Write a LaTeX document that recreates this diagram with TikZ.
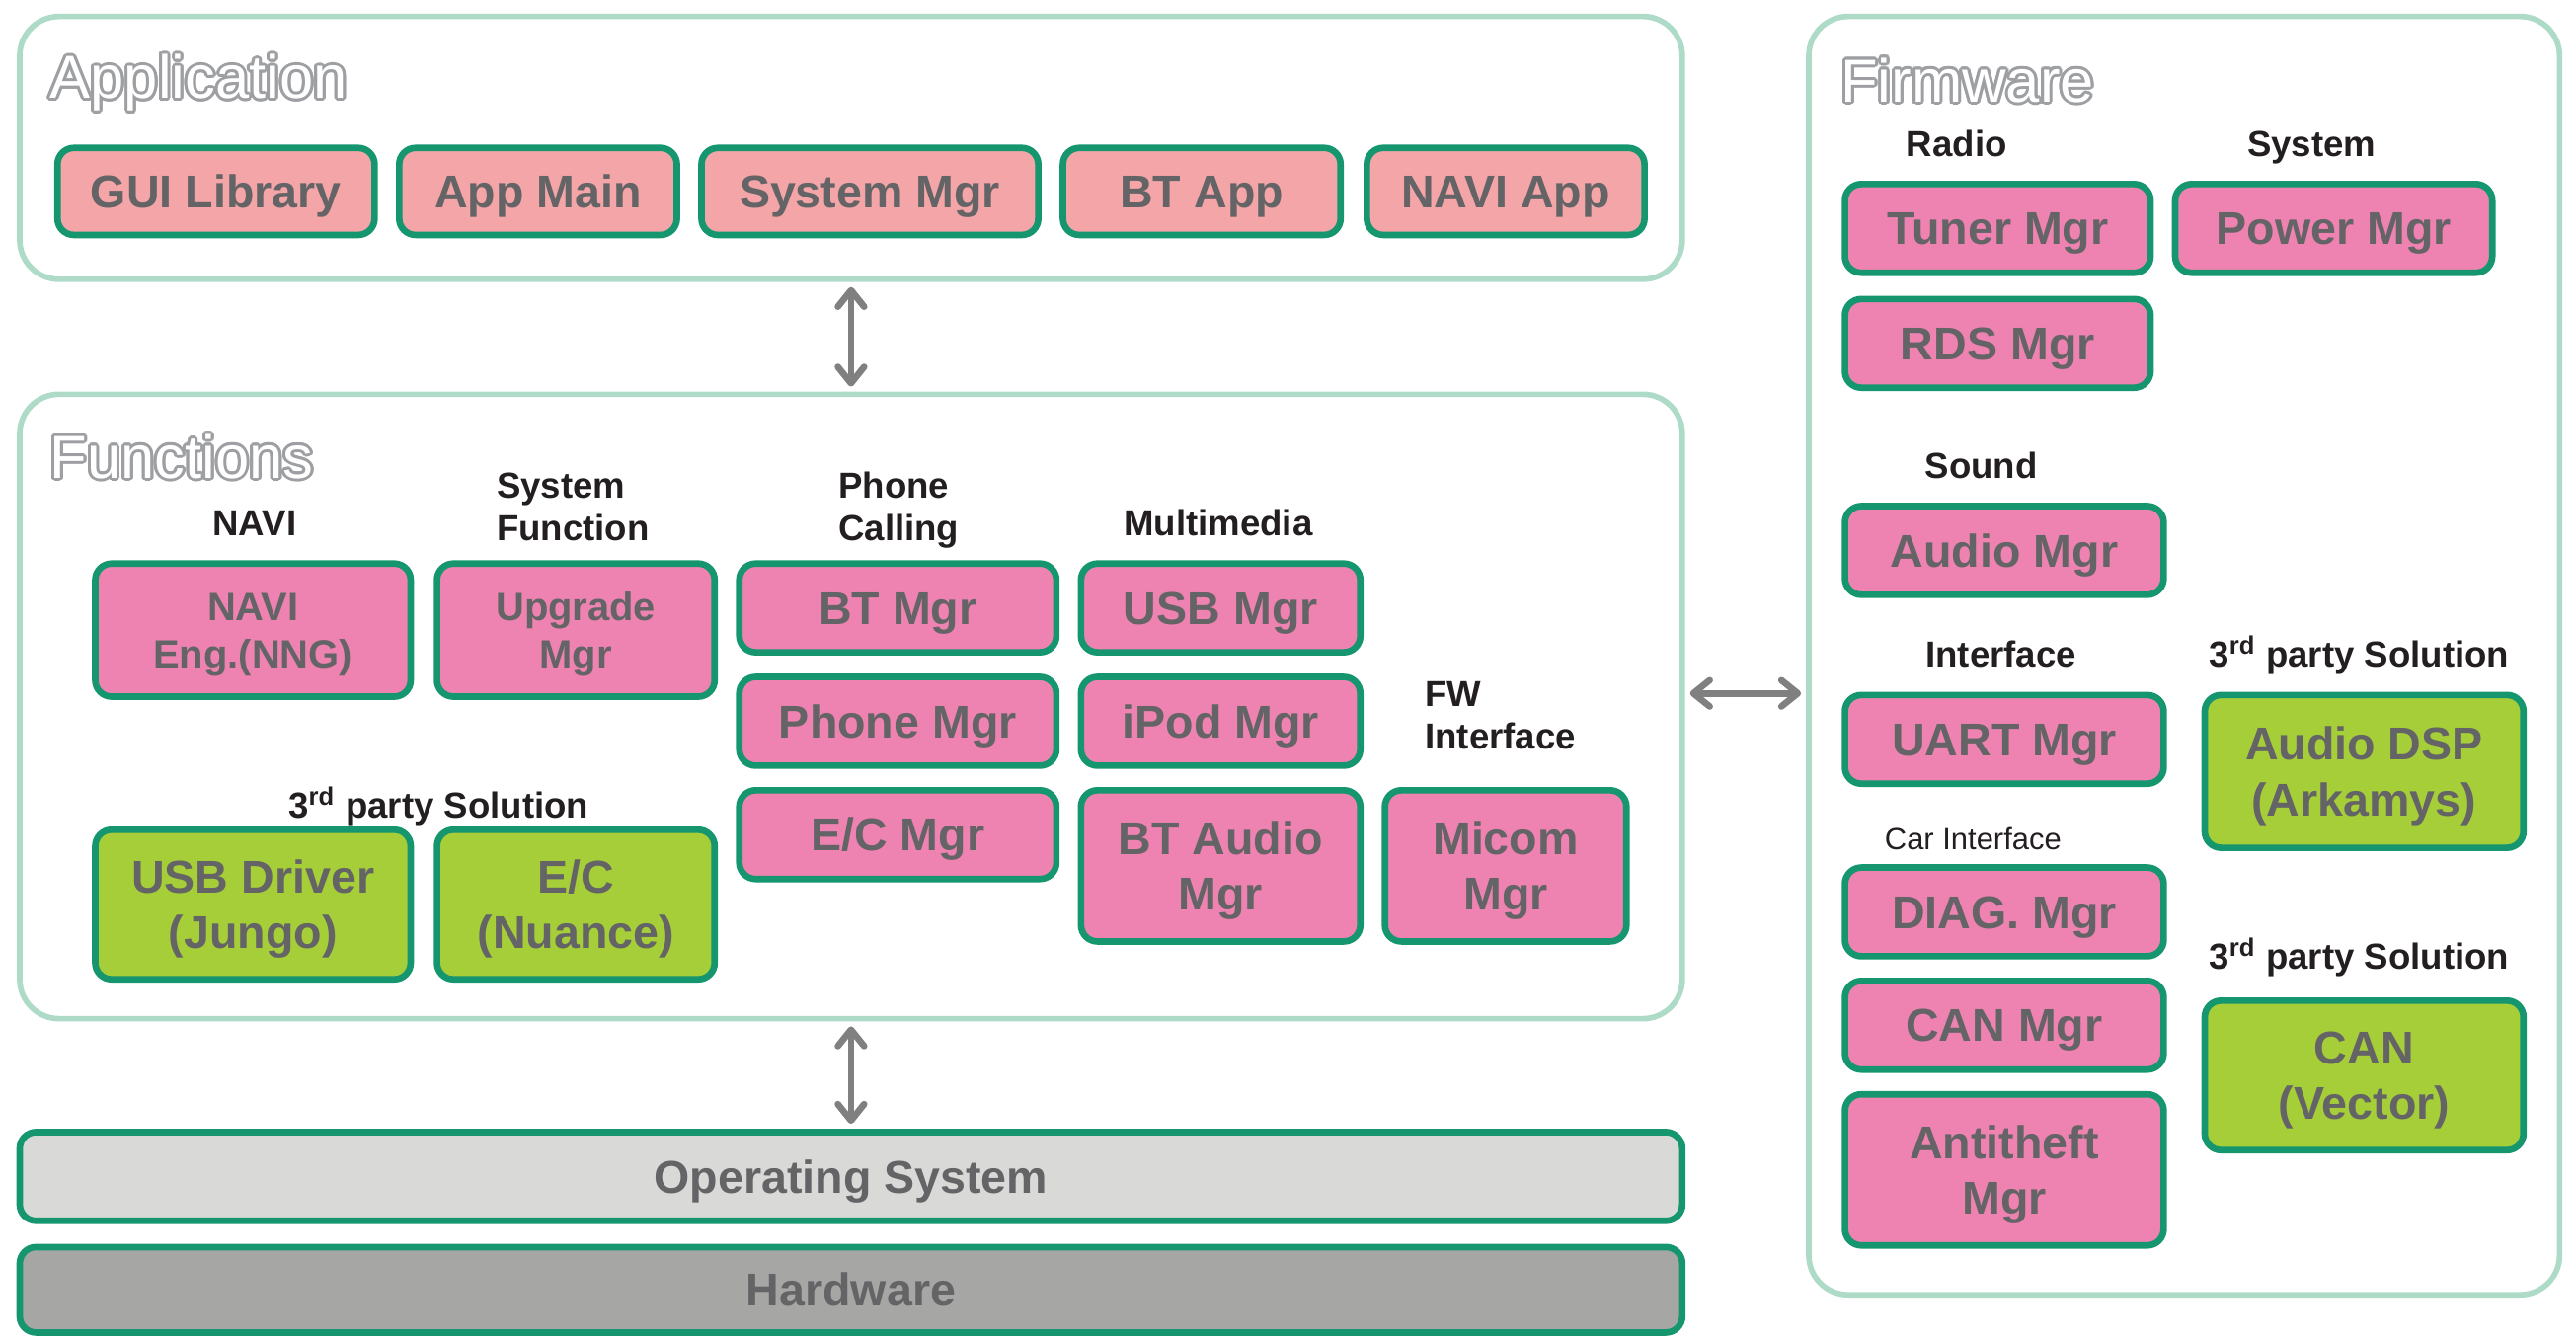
\documentclass[tikz,border=0pt]{standalone}
\usepackage{fontspec}
\setmainfont{Liberation Sans}
\usepackage{xcolor}
\usepackage{contour}
\usetikzlibrary{arrows.meta, positioning}

\definecolor{frameline}{HTML}{AEDBC8}
\definecolor{boxline}{HTML}{15966F}
\definecolor{apppink}{HTML}{F4A5A8}
\definecolor{funcpink}{HTML}{EE83B2}
\definecolor{solgreen}{HTML}{A6CE39}
\definecolor{osgray}{HTML}{D9D9D8}
\definecolor{hwgray}{HTML}{A6A6A5}
\definecolor{boxtext}{HTML}{646466}
\definecolor{labeltext}{HTML}{231F20}
\definecolor{titlegray}{HTML}{9D9FA2}
\definecolor{arrowgray}{HTML}{808080}

\contourlength{0.9pt}
\newcommand{\layername}[1]{\textcolor{white}{\contour{titlegray}{#1}}}

\begin{document}
\begin{tikzpicture}[x=0.5pt, y=-0.5pt,
  layer/.style={draw=frameline, line width=1.7pt, rounded corners=12pt, inner sep=0pt},
  mgr/.style={draw=boxline, line width=2pt, rounded corners=5pt, text=boxtext,
    font=\bfseries\fontsize{14}{17}\selectfont, align=center, inner sep=0pt,
    text height=10pt, text depth=0pt},
  twoline/.style={text height=27pt},
  apppart/.style={mgr, fill=apppink},
  funcpart/.style={mgr, fill=funcpink},
  thirdparty/.style={mgr, fill=solgreen},
  smalltext/.style={font=\bfseries\fontsize{12}{14.5}\selectfont, text height=23.1pt},
  grouplabel/.style={text=labeltext, font=\bfseries\fontsize{11}{13}\selectfont, inner sep=0pt, anchor=base},
  layertitle/.style={font=\fontsize{18.5}{22}\selectfont, inner sep=0pt, anchor=base west},
  biarrow/.style={draw=arrowgray, line width=2pt, shorten <=1.5pt, shorten >=1.5pt,
    {Straight Barb[round,length=5pt,width=8pt]}-{Straight Barb[round,length=5pt,width=8pt]}}
]
\useasboundingbox (0,0) rectangle (1568,814);

% Layers
\node[layer, minimum width=506pt, minimum height=80pt] (app) at (518,90) {};
\node[layer, minimum width=506pt, minimum height=190pt] (func) at (518,430) {};
\node[layer, minimum width=228.5pt, minimum height=389pt] (fw) at (1329.5,399) {};
\node[layertitle] (apptitle) at (30,60) {\layername{Application}};
\node[layertitle] (functitle) at (30,291) {\layername{Functions}};
\node[layertitle] (fwtitle) at (1120,62) {\layername{Firmware}};

% Application
\node[apppart, minimum width=96.5pt, minimum height=26.5pt] (guilib) at (131.5,116.5) {GUI Library};
\node[apppart, minimum width=84.5pt, minimum height=26.5pt] (appmain) at (327.5,116.5) {App Main};
\node[apppart, minimum width=102.5pt, minimum height=26.5pt] (sysmgr) at (529.5,116.5) {System Mgr};
\node[apppart, minimum width=84.5pt, minimum height=26.5pt] (btapp) at (731.5,116.5) {BT App};
\node[apppart, minimum width=84.5pt, minimum height=26.5pt] (naviapp) at (916.5,116.5) {NAVI App};

% Functions
\node[grouplabel] (navilbl) at (155,326) {NAVI};
\node[grouplabel, align=left, anchor=base west] (syslbl) at (302,329) {System\\Function};
\node[grouplabel, align=left, anchor=base west] (phonelbl) at (510,329) {Phone\\Calling};
\node[grouplabel] (mmlbl) at (741.5,326) {Multimedia};
\node[grouplabel, align=left, anchor=base west] (fwiflbl) at (867,456) {FW\\Interface};
\node[grouplabel] (funcsollbl) at (267,498) {3\textsuperscript{rd} party Solution};

\node[funcpart, smalltext, minimum width=96pt, minimum height=40.5pt] (naveng) at (154,383.5) {NAVI\\Eng.(NNG)};
\node[funcpart, smalltext, minimum width=84.5pt, minimum height=40.5pt] (upgrade) at (350.5,383.5) {Upgrade\\Mgr};
\node[funcpart, minimum width=96.5pt, minimum height=27pt] (btmgr) at (546.5,370) {BT Mgr};
\node[funcpart, minimum width=96.5pt, minimum height=27pt] (phonemgr) at (546.5,439) {Phone Mgr};
\node[funcpart, minimum width=96.5pt, minimum height=27pt] (ecmgr) at (546.5,508) {E/C Mgr};
\node[funcpart, minimum width=85pt, minimum height=27pt] (usbmgr) at (743,370) {USB Mgr};
\node[funcpart, minimum width=85pt, minimum height=27pt] (ipodmgr) at (743,439) {iPod Mgr};
\node[funcpart, twoline, minimum width=85pt, minimum height=46pt] (btaudio) at (743,527) {BT Audio\\Mgr};
\node[funcpart, twoline, minimum width=73.5pt, minimum height=46pt] (micom) at (916.5,527) {Micom\\Mgr};
\node[thirdparty, twoline, minimum width=96pt, minimum height=45.5pt] (usbdrv) at (154,550.5) {USB Driver\\(Jungo)};
\node[thirdparty, twoline, minimum width=84.5pt, minimum height=45.5pt] (nuance) at (350.5,550.5) {E/C\\(Nuance)};

% OS and HW
\node[mgr, fill=osgray, minimum width=506pt, minimum height=27pt] (os) at (518,716) {Operating System};
\node[mgr, fill=hwgray, minimum width=506pt, minimum height=26pt] (hw) at (518,785) {Hardware};

% Firmware
\node[grouplabel] (radiolbl) at (1191,95) {Radio};
\node[grouplabel] (systemlbl) at (1407,95) {System};
\node[grouplabel] (soundlbl) at (1206,291) {Sound};
\node[grouplabel] (iflbl) at (1218,406) {Interface};
\node[grouplabel] (fwsollbl) at (1436,406) {3\textsuperscript{rd} party Solution};
\node[grouplabel, font=\fontsize{9.3}{11}\selectfont] (carlbl) at (1201,517) {Car Interface};
\node[grouplabel] (cansollbl) at (1436,590) {3\textsuperscript{rd} party Solution};

\node[funcpart, minimum width=93pt, minimum height=27pt] (tuner) at (1216,139) {Tuner Mgr};
\node[funcpart, minimum width=96.5pt, minimum height=27pt] (power) at (1420.5,139) {Power Mgr};
\node[funcpart, minimum width=93pt, minimum height=27pt] (rds) at (1216,209) {RDS Mgr};
\node[funcpart, minimum width=97pt, minimum height=27pt] (audio) at (1220,335) {Audio Mgr};
\node[funcpart, minimum width=97pt, minimum height=27pt] (uart) at (1220,450) {UART Mgr};
\node[funcpart, minimum width=97pt, minimum height=27pt] (diag) at (1220,555) {DIAG. Mgr};
\node[funcpart, minimum width=97pt, minimum height=27pt] (canmgr) at (1220,624) {CAN Mgr};
\node[funcpart, twoline, minimum width=97pt, minimum height=46pt] (antitheft) at (1220,712) {Antitheft\\Mgr};
\node[thirdparty, twoline, minimum width=97pt, minimum height=46.5pt] (dsp) at (1439,469.5) {Audio DSP\\(Arkamys)};
\node[thirdparty, twoline, minimum width=97pt, minimum height=45.5pt] (vector) at (1439,654.5) {CAN\\(Vector)};

% Links
\coordinate (fwlink) at (1060,422);
\draw[biarrow] (app) -- (func);
\draw[biarrow] (func) -- (os);
\draw[biarrow] (func.east |- fwlink) -- (fw.west |- fwlink);
\end{tikzpicture}
\end{document}
